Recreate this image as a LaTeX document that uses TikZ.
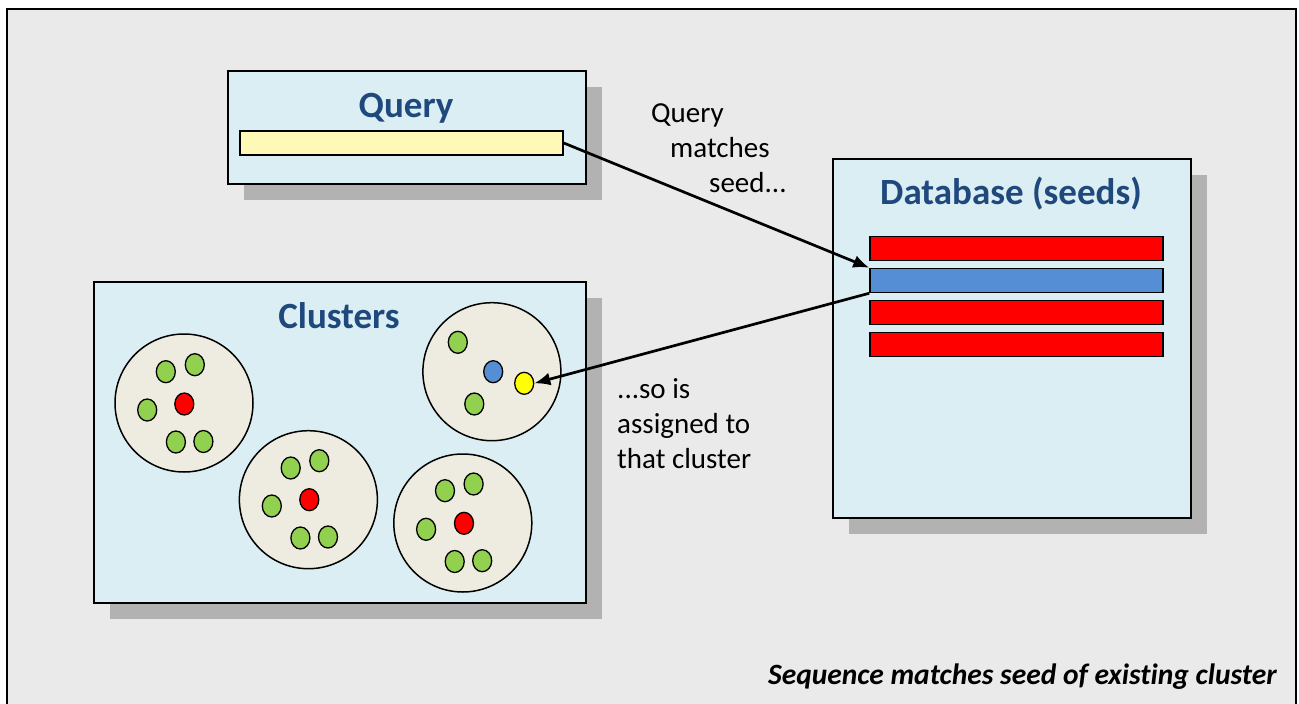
\documentclass[tikz,border=0pt]{standalone}
\usepackage{fontspec}
\setmainfont[Ligatures=NoCommon]{Carlito}
\usetikzlibrary{shapes.geometric,arrows.meta,shadows}
\definecolor{bggray}{HTML}{EAEAEA}
\definecolor{boxblue}{HTML}{DBEEF4}
\definecolor{shgray}{HTML}{B2B2B2}
\definecolor{titleblue}{HTML}{1F497D}
\definecolor{barred}{HTML}{FF0000}
\definecolor{barblue}{HTML}{558ED5}
\definecolor{paleyellow}{HTML}{FFF9B8}
\definecolor{dotgreen}{HTML}{92D050}
\definecolor{dotyellow}{HTML}{FFFF00}
\definecolor{clusterfill}{HTML}{EEECE1}
\begin{document}
\begin{tikzpicture}[x=1pt,y=-1pt,
  panel/.style={draw=black, line width=1.8pt, fill=boxblue, anchor=north west, inner sep=0pt,
    drop shadow={shadow xshift=16pt, shadow yshift=-16pt, fill=shgray, opacity=1}},
  paneltitle/.style={font=\fontsize{37}{44}\selectfont\bfseries, text=titleblue, anchor=base, inner sep=0pt},
  bar/.style={draw=black, line width=1.5pt, minimum width=293pt, minimum height=24pt, inner sep=0pt},
  clust/.style={circle, draw=black, line width=1.5pt, fill=clusterfill, minimum size=138pt, inner sep=0pt},
  dot/.style={ellipse, draw=black, line width=1.3pt, minimum width=19pt, minimum height=22pt, inner sep=0pt},
  gdot/.style={dot, fill=dotgreen},
  rdot/.style={dot, fill=barred},
  note/.style={font=\fontsize{29}{35}\selectfont, anchor=base west, inner sep=0pt},
  conn/.style={line width=2.7pt, -{Latex[length=16pt,width=13pt]}}
]
\useasboundingbox (0,0) rectangle (1299,704);
\fill[white] (0,0) rectangle (1299,704);
\fill[bggray] (7,9) rectangle (1296,704);
\draw[line width=2.4pt] (7,706) -- (7,9) -- (1296,9) -- (1296,706);

% Query panel
\node[panel, minimum width=358pt, minimum height=113pt] (qpanel) at (227,70) {};
\node[paneltitle] (qtitle) at (406,117) {Query};
\node[bar, fill=paleyellow, minimum width=323pt] (ybar) at (401.5,143) {};

% Database panel
\node[panel, minimum width=358pt, minimum height=359pt] (dpanel) at (832,158) {};
\node[paneltitle] (dtitle) at (1011,204) {Database (seeds)};
\node[bar, fill=barred] (r1) at (1016.5,248.7) {};
\node[bar, fill=barblue] (bbar) at (1016.5,280.5) {};
\node[bar, fill=barred] (r2) at (1016.5,312.7) {};
\node[bar, fill=barred] (r3) at (1016.5,344.7) {};

% Clusters panel
\node[panel, minimum width=492pt, minimum height=321pt] (cpanel) at (93,281) {};
\node[paneltitle] (ctitle) at (339,328) {Clusters};

% cluster 1
\node[clust] (c1) at (184,403) {};
\node[gdot] (c1a) at (165.8,371.7) {};
\node[gdot] (c1b) at (194.8,364.7) {};
\node[gdot] (c1c) at (147.2,410) {};
\node[gdot] (c1d) at (175.9,442) {};
\node[gdot] (c1e) at (203.4,441.5) {};
\node[rdot] (c1r) at (184.3,404) {};

% cluster 2
\node[clust] (c2) at (308.4,499.7) {};
\node[gdot] (c2a) at (290.7,468) {};
\node[gdot] (c2b) at (319.3,460.7) {};
\node[gdot] (c2c) at (271.8,506) {};
\node[gdot] (c2d) at (300.4,538) {};
\node[gdot] (c2e) at (328,537) {};
\node[rdot] (c2r) at (309.3,499.7) {};

% cluster 3
\node[clust] (c3) at (491.9,371.7) {};
\node[gdot] (c3a) at (457.8,342.3) {};
\node[gdot] (c3b) at (474.3,404) {};
\node[dot, fill=barblue] (c3blue) at (493.2,371.7) {};
\node[dot, fill=dotyellow] (ydot) at (524.2,383.3) {};

% cluster 4
\node[clust] (c4) at (462.8,523) {};
\node[gdot] (c4a) at (445,490.7) {};
\node[gdot] (c4b) at (473.6,484) {};
\node[gdot] (c4c) at (426.1,529.3) {};
\node[gdot] (c4d) at (454.7,561.5) {};
\node[gdot] (c4e) at (482.2,560.7) {};
\node[rdot] (c4r) at (464,523.3) {};

% notes
\node[note] (n1) at (651,122) {Query};
\node[note] (n2) at (670,157) {matches};
\node[note] (n3) at (709,192) {seed...};
\node[note] (m1) at (617,398) {...so is};
\node[note] (m2) at (617,433) {assigned to};
\node[note] (m3) at (617,468) {that cluster};

% connectors
\draw[conn] (ybar.east) -- (bbar.north west);
\draw[conn] (bbar.south west) -- (ydot.east);

% caption
\node[font=\fontsize{29.5}{35}\selectfont\bfseries\itshape, anchor=base east, inner sep=0pt] (cap) at (1277,684) {Sequence matches seed of existing cluster};
\end{tikzpicture}
\end{document}
